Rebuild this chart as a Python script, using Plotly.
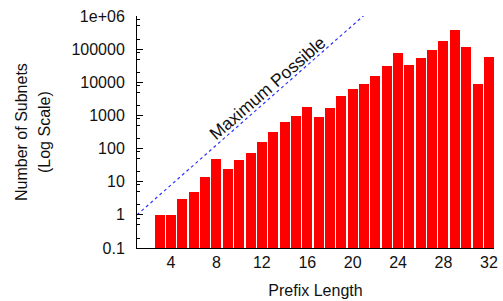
import plotly.graph_objects as go

prefix_len = list(range(3, 33))
subnets = [1, 1, 3, 5, 14, 50, 24, 44, 76, 163, 325, 620, 940, 1750, 875,
           1640, 3930, 6350, 9000, 15700, 31000, 77000, 33500, 54500, 94600,
           176000, 378000, 116000, 9000, 58000]

max_x = [1, 21]
max_y = [1, 1048576]

y_tickvals = [0.1, 1, 10, 100, 1000, 10000, 100000, 1000000]
y_ticktext = ["0.1", "1", "10", "100", "1000", "10000", "100000", "1e+06"]
x_tickvals = [4, 8, 12, 16, 20, 24, 28, 32]

minor_vals = []
for d in range(-1, 6):
    for m in (2, 5, 8):
        minor_vals.append(m * 10 ** d)

font = "Liberation Sans, Arial, Helvetica, sans-serif"

fig = go.Figure()
fig.add_trace(go.Bar(x=prefix_len, y=subnets, width=0.88,
                     marker=dict(color="#ff0000", line=dict(width=0)),
                     showlegend=False))
fig.add_trace(go.Scatter(x=max_x, y=max_y, mode="lines",
                         line=dict(color="#3030ff", width=1.2, dash="dot"),
                         showlegend=False))

fig.update_layout(
    width=503, height=301,
    margin=dict(l=137, r=9, t=16, b=53, autoexpand=False),
    plot_bgcolor="white", paper_bgcolor="white",
    font=dict(family=font, size=16, color="#111"),
    xaxis=dict(range=[1, 32.45], tickvals=x_tickvals, ticks="",
               showgrid=False, zeroline=False, showline=True,
               linecolor="black", linewidth=1, automargin=False,
               tickfont=dict(size=16),
               title=dict(text="Prefix Length", font=dict(size=16), standoff=14)),
    yaxis=dict(type="log", range=[-1, 6], tickvals=y_tickvals,
               ticktext=y_ticktext, ticks="inside", ticklen=6,
               tickcolor="black", showgrid=False, zeroline=False,
               showline=True, linecolor="black", linewidth=1, automargin=False,
               tickfont=dict(size=16), ticklabelstandoff=8,
               ticklabeloverflow="allow",
               minor=dict(tickvals=minor_vals, ticks="inside", ticklen=3,
                          tickcolor="black", showgrid=False)),
    bargap=0,
)

fig.add_annotation(text="Number of Subnets", xref="paper", yref="paper",
                   x=0, y=0.5, xshift=-116, textangle=-90, showarrow=False,
                   font=dict(size=16), xanchor="center", yanchor="middle")
fig.add_annotation(text="(Log Scale)", xref="paper", yref="paper",
                   x=0, y=0.5, xshift=-93, textangle=-90, showarrow=False,
                   font=dict(size=16), xanchor="center", yanchor="middle")
fig.add_annotation(text="Maximum Possible", x=12.6, y=3.74, xref="x", yref="y",
                   xshift=-1, yshift=3,
                   textangle=-41, showarrow=False, font=dict(size=17.5))

fig.write_html(
    "out.html",
    config={"displayModeBar": False},
    post_script="document.body.style.margin='0';document.body.style.overflow='hidden';",
)
